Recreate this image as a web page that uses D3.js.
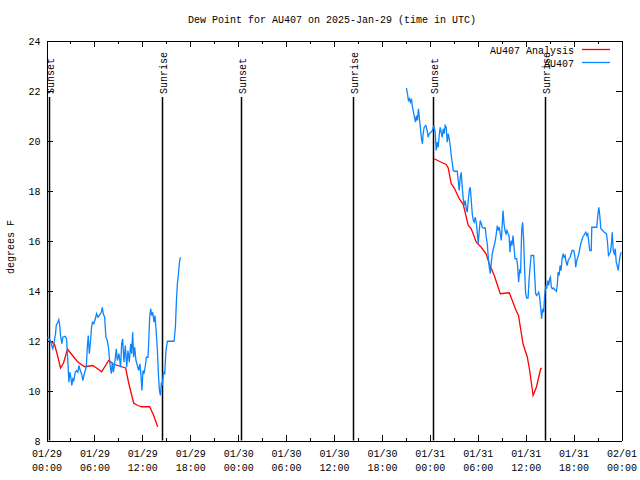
<!DOCTYPE html>
<html><head><meta charset="utf-8">
<script src="https://cdn.jsdelivr.net/npm/d3@7"></script>
<style>
body{margin:0;background:#fff;}
svg text{font-family:"Liberation Mono","DejaVu Sans Mono",monospace;font-size:10px;fill:#000;}
</style></head>
<body>
<svg id="c" width="640" height="480"></svg>
<script>
// ---- data (time in hours since 2025-01-29 00:00 UTC, values in degrees F) ----
const titleText = "Dew Point for AU407 on 2025-Jan-29 (time in UTC)";
const yLabel = "degrees F";
const seriesNames = ["AU407 Analysis", "AU407"];
const seriesColors = ["#ff0000", "#0a84ff"];

const xTickHours = [0, 6, 12, 18, 24, 30, 36, 42, 48, 54, 60, 66, 72];
const xTickDates = ["01/29","01/29","01/29","01/29","01/30","01/30","01/30","01/30","01/31","01/31","01/31","01/31","02/01"];
const xTickTimes = ["00:00","06:00","12:00","18:00","00:00","06:00","12:00","18:00","00:00","06:00","12:00","18:00","00:00"];
const yTicks = [8, 10, 12, 14, 16, 18, 20, 22, 24];

const sunHours = [0.35, 14.5, 24.36, 38.38, 48.43, 62.46];
const sunLabels = ["Sunset", "Sunrise", "Sunset", "Sunrise", "Sunset", "Sunrise"];

// Analysis (red); null marks a gap
const anaHours = [0.38,1.0,1.38,1.76,2.13,2.63,3.26,3.89,4.77,5.77,6.27,6.90,7.78,8.40,8.91,9.41,9.91,10.29,10.91,11.42,11.92,12.92,13.42,13.92,
  null,
  48.55,49.42,50.05,50.30,50.68,51.06,51.68,52.18,52.81,53.19,53.81,54.44,55.07,55.44,56.07,56.82,57.95,58.80,59.10,59.67,60.21,60.50,60.93,61.34,61.88,62.03];
const anaDew = [12.0,11.85,11.4,10.9,11.1,11.65,11.4,11.15,10.95,11.0,10.9,10.75,11.2,11.05,11.0,10.95,10.9,10.3,9.5,9.4,9.35,9.35,9.0,8.55,
  null,
  19.27,19.13,19.04,18.9,18.27,18.1,17.67,17.45,16.6,16.47,15.93,15.73,15.45,15.07,14.6,13.87,13.91,13.2,13.0,11.87,11.33,10.8,9.8,10.13,10.87,10.9];

// Observations (blue); null marks a gap
const obsHours = [0.09,0.38,0.59,0.79,0.92,1.13,1.22,1.42,1.54,1.63,1.76,1.92,2.05,2.35,2.51,2.67,2.80,2.92,3.05,3.17,3.30,3.42,3.60,3.76,3.93,4.05,4.23,4.39,4.55,4.68,4.85,4.98,
  5.11,5.23,5.36,5.52,5.64,5.77,5.93,6.11,6.27,6.43,6.61,6.86,6.99,7.11,7.28,7.44,7.61,7.78,7.94,8.12,8.24,8.37,8.53,8.74,8.87,9.07,9.28,9.41,9.53,9.70,9.87,10.04,10.20,10.37,
  10.54,10.66,10.79,10.91,11.04,11.20,11.38,11.54,11.70,11.83,11.95,12.08,12.21,12.38,12.51,12.71,12.79,12.92,13.05,13.17,13.30,13.46,13.58,13.71,13.89,14.01,14.14,14.26,
  14.39,14.51,14.64,14.80,14.96,15.14,15.97,16.14,16.27,16.39,16.52,16.65,16.77,
  null,
  45.07,45.20,45.32,45.45,45.57,45.70,45.83,45.95,46.08,46.20,46.33,46.45,46.58,46.70,46.83,46.95,47.08,47.16,47.29,47.50,47.67,47.79,47.92,48.13,48.33,48.51,48.67,48.80,
  48.92,49.05,49.17,49.30,49.42,49.55,49.67,49.80,49.92,50.05,50.18,50.30,50.43,50.55,50.68,50.80,50.93,51.09,51.43,51.56,51.68,51.81,51.93,52.06,52.18,52.31,52.43,52.56,
  52.68,52.81,52.94,53.06,53.19,53.31,53.44,53.56,53.69,53.81,53.94,54.06,54.19,54.31,54.44,54.57,54.78,54.94,55.07,55.19,55.32,55.44,55.57,55.70,55.82,55.95,56.07,56.20,
  56.32,56.45,56.57,56.70,56.82,56.95,57.04,57.16,57.29,57.41,57.54,57.66,57.79,57.92,58.04,58.17,58.29,58.42,58.54,58.67,58.87,58.99,59.12,59.24,59.37,59.50,59.62,59.75,
  59.87,60.00,60.12,60.30,60.42,60.55,60.68,61.00,61.13,61.25,61.38,61.50,61.63,61.75,61.88,62.00,62.13,62.25,62.38,62.51,62.63,62.76,62.88,63.01,63.10,63.22,63.35,63.47,
  63.64,63.85,63.97,64.06,64.19,64.31,64.44,64.56,64.69,64.81,64.94,65.07,65.19,65.32,65.44,65.57,65.69,65.82,66.02,66.15,66.27,66.40,66.53,66.65,66.78,66.90,67.03,67.15,
  67.28,67.40,67.53,67.65,67.78,67.90,68.03,68.21,68.28,68.90,69.03,69.16,69.28,69.41,69.58,69.83,70.12,70.25,70.37,70.50,70.62,70.75,70.84,70.96,71.09,71.22,71.34,71.46,
  71.59,71.71,71.84,71.97];
const obsDew = [12.13,12.07,11.87,11.67,11.87,12.27,12.6,12.73,12.83,12.67,12.2,11.87,12.13,12.17,12.07,11.2,10.33,10.73,10.53,10.2,10.47,10.4,10.73,10.8,10.73,11.0,10.8,10.67,10.4,10.6,10.8,10.93,
  11.73,12.2,11.47,12.0,12.53,12.73,12.67,12.87,13.07,12.93,13.0,13.13,13.33,13.07,12.93,12.13,12.0,11.67,11.07,10.67,11.13,10.73,11.07,11.67,11.2,11.47,10.93,11.87,12.07,11.13,11.8,10.93,11.6,11.13,
  11.87,11.47,12.33,11.33,11.73,11.2,11.0,10.8,11.07,10.6,10.0,10.8,10.67,11.0,11.33,11.33,11.87,12.93,13.27,13.0,13.13,12.73,13.0,12.47,11.6,10.67,10.0,9.8,
  10.33,10.2,10.73,10.67,11.6,11.97,11.97,12.53,13.6,14.27,14.67,15.13,15.33,
  null,
  22.1,21.87,21.6,21.67,21.53,21.67,21.33,21.13,20.93,20.73,21.0,20.8,21.27,20.87,20.47,20.07,19.87,20.27,20.53,20.6,20.4,20.13,20.27,20.33,20.4,20.6,20.33,19.6,
  19.93,19.73,20.2,20.53,20.33,20.13,20.47,20.27,20.6,20.53,19.93,20.27,20.07,19.8,19.4,19.13,18.8,18.77,18.77,18.4,18.0,18.53,18.73,18.13,17.67,17.4,17.6,17.27,
  17.13,17.6,18.0,18.13,17.6,17.07,16.8,16.73,16.93,16.73,16.33,15.87,16.4,16.8,16.67,16.53,16.5,16.5,16.13,15.87,15.33,14.93,14.67,15.13,15.47,15.67,15.8,16.0,
  16.27,16.6,16.4,16.53,16.27,16.0,16.47,17.2,16.67,16.4,16.27,16.4,16.27,16.2,15.53,16.0,15.8,16.2,15.73,15.27,15.27,15.0,14.33,14.8,14.73,16.4,16.73,16.0,
  14.8,13.87,13.7,13.7,14.4,14.93,15.4,15.4,14.6,13.87,13.8,13.87,13.93,13.73,13.33,12.87,13.27,13.13,13.8,14.2,14.07,14.4,14.2,14.47,14.53,14.13,14.07,14.1,
  14.03,13.97,14.27,14.73,14.6,15.0,14.8,15.27,15.47,15.33,15.4,15.13,15.0,15.2,15.27,15.33,15.47,15.6,15.6,15.4,14.93,15.2,15.33,15.47,15.67,15.87,16.0,16.13,
  16.2,16.27,16.33,16.2,16.27,15.93,15.6,15.6,16.53,16.53,17.0,17.33,17.0,16.47,16.43,16.33,16.27,15.93,15.4,15.47,15.53,15.93,16.33,15.6,15.47,15.67,15.13,15.0,
  14.8,15.13,15.4,15.53];

// ---- drawing ----
const svg = d3.select("#c");
const L = 46.5, R = 621.5, T = 40.5, B = 440.5;
const x = d3.scaleLinear().domain([0, 72]).range([L, R]);
const y = d3.scaleLinear().domain([8, 24]).range([B, T]);

svg.append("rect").attr("width", 640).attr("height", 480).attr("fill", "#fff");

// title
svg.append("text").attr("x", 332).attr("y", 23).attr("text-anchor", "middle").text(titleText);
// y label
svg.append("text").attr("transform", "translate(14,247) rotate(-90)").attr("text-anchor", "middle").text(yLabel);

const minorHours = d3.range(0, 73, 3);

function styleAxis(g) {
  g.selectAll("path").attr("stroke", "#000").attr("stroke-width", 1).attr("shape-rendering", "crispEdges");
  g.selectAll("line").attr("stroke", "#000").attr("stroke-width", 1).attr("shape-rendering", "crispEdges");
}

// bottom axis: minor + major ticks (inward)
const gbMinor = svg.append("g").attr("transform", `translate(0,${B})`)
  .call(d3.axisBottom(x).tickValues(minorHours).tickSizeInner(-3).tickSizeOuter(0).tickFormat(() => ""));
styleAxis(gbMinor);
const gb = svg.append("g").attr("transform", `translate(0,${B})`)
  .call(d3.axisBottom(x).tickValues(xTickHours).tickSizeInner(-6).tickSizeOuter(0).tickFormat(() => ""));
styleAxis(gb);
gb.selectAll(".tick").each(function(d, i) {
  const t = d3.select(this).append("text").attr("text-anchor", "middle").attr("fill", "#000");
  t.append("tspan").attr("x", 0).attr("y", 16).text(xTickDates[i]);
  t.append("tspan").attr("x", 0).attr("y", 30).text(xTickTimes[i]);
});
// top axis
const gtMinor = svg.append("g").attr("transform", `translate(0,${T})`)
  .call(d3.axisTop(x).tickValues(minorHours).tickSizeInner(-3).tickSizeOuter(0).tickFormat(() => ""));
styleAxis(gtMinor);
const gt = svg.append("g").attr("transform", `translate(0,${T})`)
  .call(d3.axisTop(x).tickValues(xTickHours).tickSizeInner(-6).tickSizeOuter(0).tickFormat(() => ""));
styleAxis(gt);
// left axis
const gl = svg.append("g").attr("transform", `translate(${L},0)`)
  .call(d3.axisLeft(y).tickValues(yTicks).tickSizeInner(-6).tickSizeOuter(0).tickPadding(6).tickFormat(d3.format("d")));
styleAxis(gl);
gl.selectAll("text").style("font-size", "10px").attr("dy", "0.35em");
// right axis
const gr = svg.append("g").attr("transform", `translate(${R},0)`)
  .call(d3.axisRight(y).tickValues(yTicks).tickSizeInner(-6).tickSizeOuter(0).tickFormat(() => ""));
styleAxis(gr);

// sunrise / sunset markers
const sun = svg.append("g");
sunHours.forEach((h, i) => {
  const xx = Math.round(x(h)) + 0.5;
  sun.append("line").attr("x1", xx).attr("x2", xx).attr("y1", 97).attr("y2", B)
    .attr("stroke", "#000").attr("stroke-width", 1.5);
  sun.append("text").attr("transform", `translate(${xx + 4},94) rotate(-90)`)
    .attr("text-anchor", "start").text(sunLabels[i]);
});

// series
const line = d3.line().defined(d => d[1] != null).x(d => x(d[0])).y(d => y(d[1]));
const anaData = anaHours.map((h, i) => [h, anaDew[i]]);
const obsData = obsHours.map((h, i) => [h, obsDew[i]]);
svg.append("path").datum(anaData).attr("d", line).attr("fill", "none")
  .attr("stroke", seriesColors[0]).attr("stroke-width", 1.3);
svg.append("path").datum(obsData).attr("d", line).attr("fill", "none")
  .attr("stroke", seriesColors[1]).attr("stroke-width", 1.3);

// legend
const leg = svg.append("g");
[0, 1].forEach(i => {
  const yy = 49.5 + i * 13;
  leg.append("text").attr("x", 574).attr("y", yy + 4).attr("text-anchor", "end").text(seriesNames[i]);
  leg.append("line").attr("x1", 582).attr("x2", 610).attr("y1", yy).attr("y2", yy)
    .attr("stroke", seriesColors[i]).attr("stroke-width", 1.3);
});
</script>
</body></html>
